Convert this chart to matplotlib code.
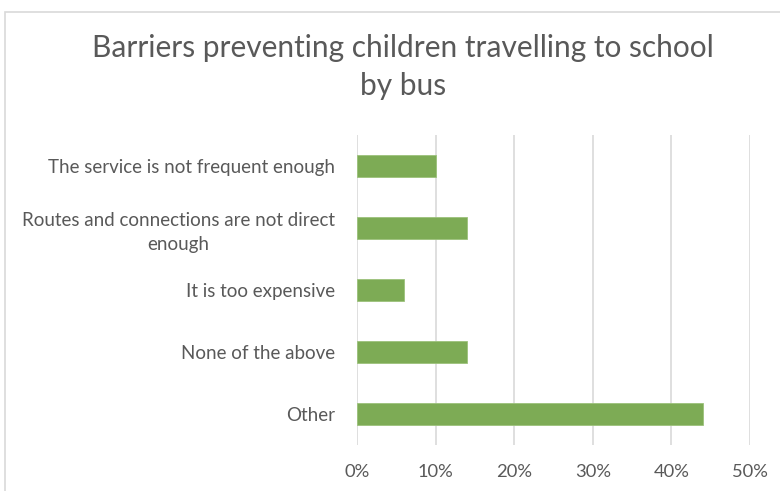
import matplotlib
matplotlib.use("Agg")
import matplotlib.pyplot as plt
from matplotlib.patches import Rectangle
from matplotlib.ticker import PercentFormatter

categories = ["The service is not frequent enough",
              "Routes and connections are not direct\nenough",
              "It is too expensive",
              "None of the above",
              "Other"]
values = [0.10, 0.14, 0.06, 0.14, 0.44]
xticks = [0, 0.1, 0.2, 0.3, 0.4, 0.5]

plt.rcParams['font.family'] = ['Lato', 'DejaVu Sans']
txt = '#595959'

W, H = 780, 491
fig = plt.figure(figsize=(W/100, H/100), dpi=100)
fig.patches.append(Rectangle((5/W, -0.1), 1.2, (1 - 12/H) + 0.1, transform=fig.transFigure,
                             fill=False, edgecolor='#D9D9D9', linewidth=1.2))

ax = fig.add_axes([357/W, 1 - 445/H, (750-357)/W, (445-135)/H])
y = list(range(len(categories)))
ax.barh(y, values, height=0.36, color='#7DAB55', edgecolor='#9CC27B', linewidth=0.6, zorder=3)
ax.set_ylim(len(categories) - 0.5, -0.5)
ax.set_xlim(0, 0.5)
ax.set_xticks(xticks)
ax.xaxis.set_major_formatter(PercentFormatter(1.0, decimals=0))
ax.set_yticks(y)
ax.set_yticklabels(categories, multialignment='center', linespacing=1.45)
ax.tick_params(axis='y', length=0, colors=txt, labelsize=13.5, pad=16)
ax.tick_params(axis='x', length=0, colors=txt, labelsize=13.2, pad=14)
ax.grid(axis='x', color='#D9D9D9', linewidth=1.2, zorder=0)
for s in ax.spines.values():
    s.set_visible(False)

fig.text(403/W, 1 - 67/H, "Barriers preventing children travelling to school\nby bus",
         ha='center', va='center', fontsize=21.5, color=txt, linespacing=1.45)

fig.savefig("out.png", dpi=100)
